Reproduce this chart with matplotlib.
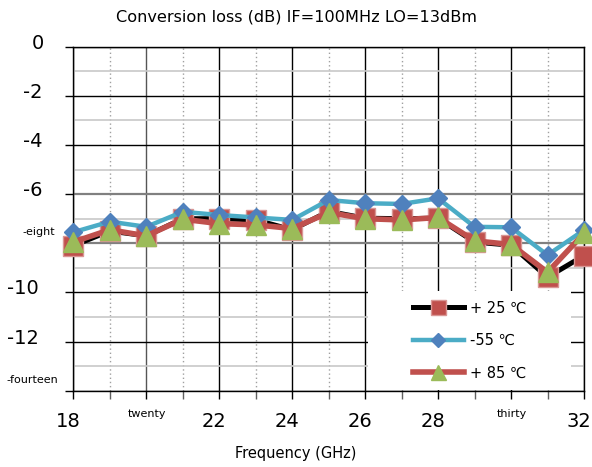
import matplotlib
matplotlib.use("Agg")
import matplotlib.pyplot as plt
import matplotlib.transforms as mtransforms
from matplotlib.patches import Rectangle

# frequency (GHz)
freq = [18, 19, 20, 21, 22, 23, 24, 25, 26, 27, 28, 29, 30, 31, 32]
# conversion loss (dB) per temperature
loss_25 = [-8.1, -7.5, -7.7, -7.0, -7.0, -7.05, -7.45, -6.7, -6.98, -7.0, -6.98, -7.95, -8.08, -9.38, -8.5]
loss_m55 = [-7.55, -7.12, -7.33, -6.72, -6.85, -6.95, -7.05, -6.24, -6.37, -6.4, -6.17, -7.33, -7.35, -8.48, -7.46]
loss_85 = [-7.95, -7.45, -7.7, -7.02, -7.2, -7.25, -7.4, -6.75, -7.0, -7.05, -6.95, -7.9, -8.05, -9.18, -7.6]

labels = ["+ 25 \u2103", "-55 \u2103", "+ 85 \u2103"]
xtick_vals = [18, 20, 22, 24, 26, 28, 30, 32]
xtick_text = ["18", "twenty", "22", "24", "26", "28", "thirty", "32"]
ytick_vals = [0, -2, -4, -6, -8, -10, -12, -14]
ytick_text = ["0", "-2", "-4", "-6", "-eight", "-10", "-12", "-fourteen"]

W, H = 592, 467
fig = plt.figure(figsize=(W / 100, H / 100), dpi=100)
ax = fig.add_axes([73.3 / W, 1 - 390.7 / H, (584 - 73.3) / W, (390.7 - 46.7) / H])

ax.plot(freq, loss_25, color="black", lw=3.6, marker="s", ms=15,
        mfc="#C0504D", mec="#D99694", mew=1, label=labels[0], clip_on=False, zorder=3)
ax.plot(freq, loss_m55, color="#4BACC6", lw=3.2, marker="D", ms=9.5,
        mfc="#4F81BD", mec="#4F81BD", label=labels[1], clip_on=False, zorder=4)
ax.plot(freq, loss_85, color="#C0504D", lw=4, marker="^", ms=15,
        mfc="#9BBB59", mec="#9BBB59", label=labels[2], clip_on=False, zorder=5)

ax.set_xlim(18, 32)
ax.set_ylim(-14, 0)
ax.set_xticks(xtick_vals)
ax.set_xticks(range(19, 32, 2), minor=True)
ax.set_yticks(ytick_vals)
ax.set_yticks(range(-13, 0, 2), minor=True)
ax.set_xticklabels(xtick_text)
ax.set_yticklabels(ytick_text)

ax.tick_params(axis="x", which="both", length=5.8, width=1, direction="out", pad=9.8)
ax.tick_params(axis="x", which="minor", color="#606060")
ax.tick_params(axis="y", which="major", length=5.8, width=1, direction="out", pad=30.5)
ax.tick_params(axis="y", which="minor", length=0)

ax.grid(True, which="major", axis="both", color="black", lw=1)
ax.grid(True, which="minor", axis="y", color="#C8C8C8", lw=1.2)
ax.grid(True, which="minor", axis="x", color="#A0A0A0", lw=1, ls=(0, (1, 2)))
for t in ax.yaxis.get_major_ticks():
    if t.get_loc() in (-6, -8):
        t.gridline.set_color("#808080")
        t.gridline.set_linewidth(1.6)
for t in ax.xaxis.get_major_ticks():
    if t.get_loc() == 20:
        t.gridline.set_color("#555555")
for s in ax.spines.values():
    s.set_color("black")
    s.set_linewidth(1)

# white box behind the legend
ax.add_patch(Rectangle(((368 - 73.3) / 510.7, 0.003), (571 - 368) / 510.7, (390.7 - 292) / 344,
                       transform=ax.transAxes, facecolor="white", edgecolor="none", zorder=2))
ax.legend(loc="upper left", bbox_to_anchor=(0.665, 0.262), frameon=False, fontsize=10.5,
          borderpad=0, borderaxespad=0, handlelength=3.5, handletextpad=0.4,
          labelspacing=1.2, numpoints=1, markerscale=0.72)

px = 1 / 100
for lab in ax.get_yticklabels():
    txt = lab.get_text()
    lab.set_ha("left")
    lab.set_va("baseline")
    if txt in ("-eight", "-fourteen"):
        lab.set_fontsize(8)
        dy = 8
    else:
        lab.set_fontsize(14)
        dy = -2
    dx = {"0": 9, "-10": -16, "-12": -16, "-fourteen": -16}.get(txt, 0)
    lab.set_transform(lab.get_transform() + mtransforms.ScaledTranslation(dx * px, dy * px, fig.dpi_scale_trans))

for lab in ax.get_xticklabels():
    txt = lab.get_text()
    if txt in ("twenty", "thirty"):
        lab.set_fontsize(8)
        dx, dy = 1, 3
    else:
        lab.set_fontsize(14)
        dx, dy = -5, 0
    lab.set_transform(lab.get_transform() + mtransforms.ScaledTranslation(dx * px, dy * px, fig.dpi_scale_trans))

fig.text(0.5, 1 - 21 / H, "Conversion loss (dB) IF=100MHz LO=13dBm", ha="center", va="baseline", fontsize=11.6)
fig.text(0.5, 1 - 458 / H, "Frequency (GHz)", ha="center", va="baseline", fontsize=10.5)

fig.savefig("out.png", dpi=100)
